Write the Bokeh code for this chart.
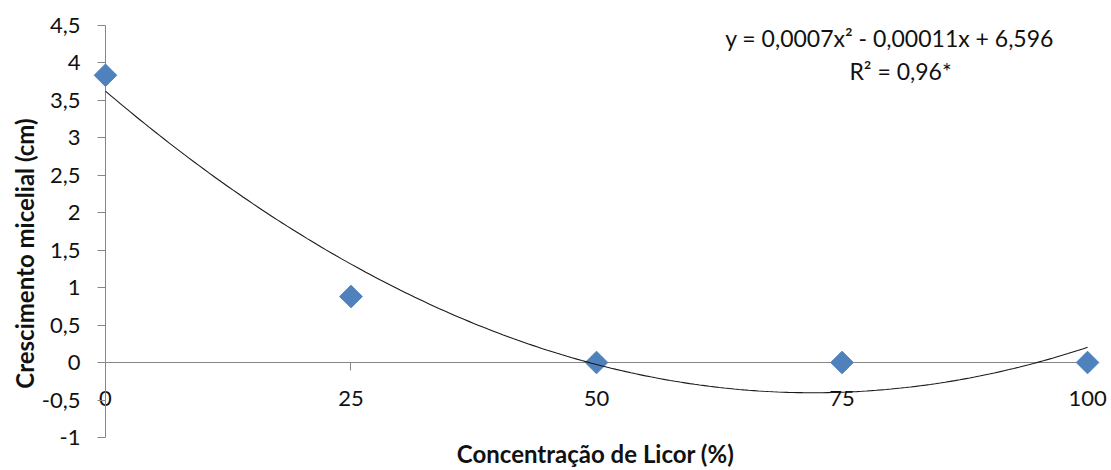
import numpy as np
from bokeh.plotting import figure
from bokeh.models import Range1d, FixedTicker, Label
from bokeh.embed import file_html
from bokeh.resources import INLINE

# ---- data ----
concentration = [0, 25, 50, 75, 100]
growth = [3.83, 0.88, 0.0, 0.0, 0.0]

x_ticks = [0, 25, 50, 75, 100]
x_tick_labels = ["0", "25", "50", "75", "100"]
y_ticks = [-1, -0.5, 0, 0.5, 1, 1.5, 2, 2.5, 3, 3.5, 4, 4.5]
y_tick_labels = ["-1", "-0,5", "0", "0,5", "1", "1,5", "2", "2,5", "3", "3,5", "4", "4,5"]

x_title = "Concentração de Licor (%)"
y_title = "Crescimento micelial (cm)"
eq_line1 = "y = 0,0007x² - 0,00011x + 6,596"
eq_line2 = "R² = 0,96*"

# quadratic trend line fitted to the data (as the spreadsheet trendline)
coef = np.polyfit(concentration, growth, 2)
xs_fit = np.linspace(min(concentration), max(concentration), 201)
ys_fit = np.polyval(coef, xs_fit)

FONT = "Lato"
TXT = "#111111"
AXC = "#868686"

p = figure(width=1111, height=470, output_backend="svg", toolbar_location=None,
           x_range=Range1d(-10.69, 102.44), y_range=Range1d(-1.44, 4.827),
           min_border_left=0, min_border_right=0, min_border_top=0, min_border_bottom=0)
p.outline_line_color = None
p.xgrid.visible = False
p.ygrid.visible = False
p.background_fill_color = "white"
p.border_fill_color = "white"

# axes crossing at zero
for ax in (p.xaxis[0], p.yaxis[0]):
    ax.fixed_location = 0
    ax.axis_line_color = AXC
    ax.axis_line_width = 1
    ax.major_tick_line_color = AXC
    ax.minor_tick_line_color = None
    ax.major_tick_in = 0
    ax.major_tick_out = 8
    ax.major_label_text_font = FONT
    ax.major_label_text_font_size = "22px"
    ax.major_label_text_color = TXT

p.xaxis.ticker = FixedTicker(ticks=x_ticks)
p.xaxis.major_label_overrides = dict(zip(x_ticks, x_tick_labels))
p.xaxis.major_label_standoff = 20
p.xaxis.bounds = (0, 100)
p.yaxis.ticker = FixedTicker(ticks=y_ticks)
p.yaxis.major_label_overrides = dict(zip(y_ticks, y_tick_labels))
p.yaxis.major_label_standoff = 17
p.yaxis.bounds = (-1, 4.5)

# markers
p.scatter(concentration, growth, marker="square", angle=np.pi / 4, size=16,
          fill_color="#4F81BD", line_color="#4F81BD", level="overlay")
# trend line
p.line(xs_fit, ys_fit, line_color="#1a1a1a", line_width=1.1, level="overlay")

# titles
p.add_layout(Label(x=49.9, y=-1.215, text=x_title, text_align="center", text_baseline="middle",
                   text_font=FONT, text_font_style="bold", text_font_size="24px", text_color=TXT))
p.add_layout(Label(x=-8.25, y=1.453, text=y_title, angle=np.pi / 2, text_align="center",
                   text_baseline="middle", text_font=FONT, text_font_style="bold",
                   text_font_size="24px", text_color=TXT))
# equation
p.add_layout(Label(x=79.84, y=4.333, text=eq_line1, text_align="center", text_baseline="middle",
                   text_font=FONT, text_font_size="23px", text_color=TXT))
p.add_layout(Label(x=80.96, y=3.893, text=eq_line2, text_align="center", text_baseline="middle",
                   text_font=FONT, text_font_size="23px", text_color=TXT))

open("out.html", "w").write(file_html(p, INLINE))
